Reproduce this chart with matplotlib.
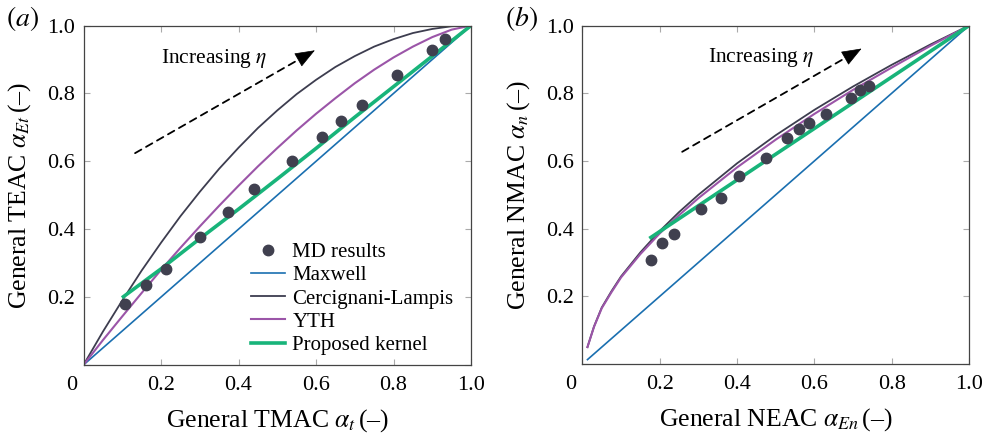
import numpy as np
import matplotlib
matplotlib.use("Agg")
import matplotlib.pyplot as plt
from matplotlib.transforms import ScaledTranslation

plt.rcParams['font.family'] = ['Liberation Serif', 'DejaVu Serif']
plt.rcParams['mathtext.fontset'] = 'stix'

# ---- panel (a): TMAC vs TEAC ----
grid_a = [0.0, 0.05, 0.10, 0.15, 0.20, 0.25, 0.30, 0.35, 0.40, 0.45, 0.50,
          0.55, 0.60, 0.65, 0.70, 0.75, 0.80, 0.85, 0.90, 0.95, 1.0]
cl_a = [0.0, 0.098, 0.190, 0.278, 0.360, 0.438, 0.510, 0.578, 0.640, 0.698, 0.750,
        0.798, 0.840, 0.878, 0.910, 0.938, 0.960, 0.978, 0.990, 0.998, 1.0]
yth_a = [0.0, 0.073, 0.143, 0.212, 0.280, 0.345, 0.408, 0.469, 0.528, 0.585, 0.639,
         0.691, 0.740, 0.786, 0.830, 0.870, 0.906, 0.938, 0.966, 0.988, 1.0]
maxwell_a_x = [0.0, 1.0]
maxwell_a_y = [0.0, 1.0]
kernel_a_x = [0.103, 0.2, 0.3, 0.4, 0.5, 0.6, 0.7, 0.8, 0.9, 1.0]
kernel_a_y = [0.201, 0.283, 0.372, 0.459, 0.548, 0.638, 0.730, 0.820, 0.910, 1.0]
md_a_x = [0.108, 0.160, 0.213, 0.300, 0.373, 0.441, 0.539, 0.616, 0.665, 0.718, 0.810, 0.900, 0.933]
md_a_y = [0.179, 0.236, 0.284, 0.378, 0.450, 0.517, 0.601, 0.671, 0.719, 0.765, 0.853, 0.927, 0.959]

# ---- panel (b): NEAC vs NMAC ----
grid_b = [0.013, 0.03, 0.05, 0.075, 0.10, 0.15, 0.20, 0.25, 0.30, 0.40,
          0.50, 0.60, 0.70, 0.80, 0.90, 1.0]
yth_b = [0.050, 0.110, 0.165, 0.212, 0.256, 0.325, 0.386, 0.440, 0.490, 0.581,
         0.663, 0.739, 0.810, 0.876, 0.940, 1.0]
cl_b = [0.050, 0.111, 0.167, 0.215, 0.259, 0.330, 0.393, 0.449, 0.500, 0.593,
        0.676, 0.751, 0.820, 0.884, 0.944, 1.0]
maxwell_b_x = [0.013, 1.0]
maxwell_b_y = [0.013, 1.0]
kernel_b_x = [0.177, 0.5, 1.0]
kernel_b_y = [0.374, 0.620, 1.0]
md_b_x = [0.177, 0.206, 0.237, 0.306, 0.358, 0.406, 0.476, 0.530, 0.559, 0.587, 0.630, 0.695, 0.718, 0.741]
md_b_y = [0.307, 0.357, 0.385, 0.457, 0.492, 0.557, 0.609, 0.668, 0.694, 0.712, 0.740, 0.785, 0.809, 0.822]

ticks = [0, 0.2, 0.4, 0.6, 0.8, 1.0]
xtick_labels = ['0', '0.2', '0.4', '0.6', '0.8', '1.0']
ytick_labels = ['', '0.2', '0.4', '0.6', '0.8', '1.0']

c_max = '#1a6fb0'
c_cl = '#3d3d4f'
c_yth = '#9b55a8'
c_ker = '#18b47a'
c_md = '#40404f'

fig = plt.figure(figsize=(9.85, 4.37), dpi=100)
ax_a = fig.add_axes([0.0848, 0.165, 0.3934, 0.7765])
ax_b = fig.add_axes([0.5913, 0.167, 0.3925, 0.7745])


def style_axes(ax, xlabel, ylabel, tag):
    ax.set_xlim(0, 1)
    ax.set_ylim(0, 1)
    ax.set_xticks(ticks)
    ax.set_yticks(ticks)
    ax.set_xticklabels(xtick_labels, fontsize=16)
    ax.set_yticklabels(ytick_labels, fontsize=16)
    ax.tick_params(direction='in', length=4, width=0.8, color='#aaaaaa',
                   top=True, right=True, pad=8)
    ax.tick_params(axis='y', pad=6)
    for s in ax.spines.values():
        s.set_color('#444444')
        s.set_linewidth(0.9)
    # push the corner "0" a little to the left
    lab0 = ax.get_xticklabels()[0]
    lab0.set_transform(lab0.get_transform() + ScaledTranslation(-0.12, 0, fig.dpi_scale_trans))
    ax.set_xlabel(xlabel, fontsize=18.5, labelpad=9)
    ax.set_ylabel(ylabel, fontsize=18.5, labelpad=10)
    ax.text(-0.2, 1.02, tag, transform=ax.transAxes, fontsize=20, ha='left', va='center')


def trend_arrow(ax, start, end, text_xy):
    # dashed shaft, stopping at the base of the head
    ax.annotate('', xy=end, xytext=start,
                arrowprops=dict(arrowstyle='-', color='black', lw=1.3,
                                linestyle=(0, (4, 3)), shrinkA=0, shrinkB=12))
    # solid filled head
    near = (end[0] - 0.05 * (end[0] - start[0]), end[1] - 0.05 * (end[1] - start[1]))
    ax.annotate('', xy=end, xytext=near,
                arrowprops=dict(arrowstyle='-|>,head_length=0.65,head_width=0.25',
                                mutation_scale=20, color='black', lw=0.5,
                                shrinkA=0, shrinkB=0))
    ax.text(text_xy[0], text_xy[1], r'Increasing $\eta$', fontsize=15.5,
            ha='left', va='center')


# (a)
ax_a.plot(maxwell_a_x, maxwell_a_y, color=c_max, lw=1.2, label='Maxwell')
ax_a.plot(grid_a, cl_a, color=c_cl, lw=1.3, label='Cercignani-Lampis')
ax_a.plot(grid_a, yth_a, color=c_yth, lw=1.5, label='YTH')
ax_a.plot(kernel_a_x, kernel_a_y, color=c_ker, lw=2.6, label='Proposed kernel')
ax_a.plot(md_a_x, md_a_y, 'o', color=c_md, ms=7.5, label='MD results', zorder=5)
style_axes(ax_a, r'General TMAC $\alpha_{t}\,$(–)', r'General TEAC $\alpha_{Et}\,$(–)', r'$(a)$')
trend_arrow(ax_a, (0.133, 0.624), (0.597, 0.927), (0.200, 0.902))

handles, labels = ax_a.get_legend_handles_labels()
order = [4, 0, 1, 2, 3]
ax_a.legend([handles[i] for i in order], [labels[i] for i in order],
            loc='lower left', bbox_to_anchor=(0.41, 0.005), frameon=False,
            fontsize=15, handlelength=1.65, handletextpad=0.35, labelspacing=0.17,
            borderaxespad=0)

# (b)
ax_b.plot(maxwell_b_x, maxwell_b_y, color=c_max, lw=1.2)
ax_b.plot(grid_b, cl_b, color=c_cl, lw=1.3)
ax_b.plot(grid_b, yth_b, color=c_yth, lw=1.5)
ax_b.plot(kernel_b_x, kernel_b_y, color=c_ker, lw=2.6)
ax_b.plot(md_b_x, md_b_y, 'o', color=c_md, ms=7.5, zorder=5)
style_axes(ax_b, r'General NEAC $\alpha_{En}\,$(–)', r'General NMAC $\alpha_{n}\,$(–)', r'$(b)$')
trend_arrow(ax_b, (0.258, 0.627), (0.722, 0.932), (0.324, 0.906))

fig.savefig('out.png', dpi=100)
